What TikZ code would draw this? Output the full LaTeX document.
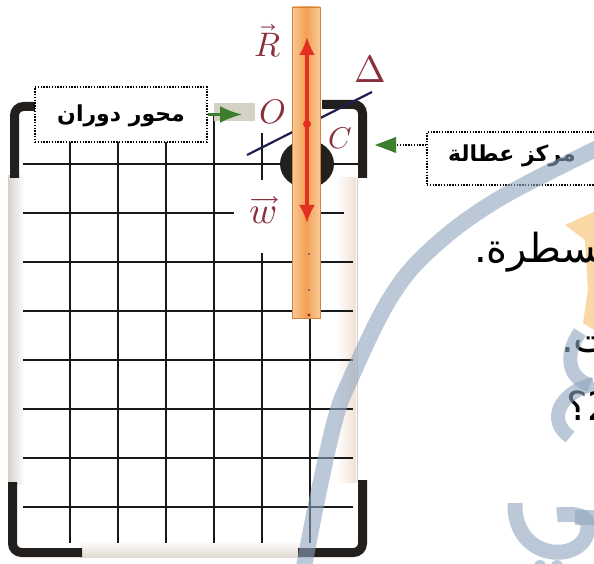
\documentclass[tikz,border=0pt]{standalone}
\usepackage{fontspec}
\usepackage{unicode-math}
\setmathfont{Latin Modern Math}
\newfontfamily\arabicfont[Script=Arabic]{DejaVu Sans}
\TeXXeTstate=1
\usetikzlibrary{arrows.meta}

\definecolor{labelred}{RGB}{138,48,60}
\definecolor{rulerorange}{RGB}{242,160,84}
\definecolor{rulerlight}{RGB}{248,202,152}
\definecolor{rulerline}{RGB}{214,130,60}
\definecolor{forcered}{RGB}{228,48,32}
\definecolor{bracketdark}{RGB}{35,31,29}
\definecolor{tipgreen}{RGB}{60,125,46}
\definecolor{tipgrey}{RGB}{212,210,196}
\definecolor{axisblue}{RGB}{30,30,80}
\definecolor{wmblue}{RGB}{143,164,190}
\definecolor{wmorange}{RGB}{249,216,166}
\definecolor{edgegrey}{RGB}{214,209,205}
\definecolor{edgebeige}{RGB}{240,224,212}
\definecolor{baseband}{RGB}{226,218,210}

\tikzset{
  gridline/.style={line width=2.7pt, black!90},
  bracket/.style={line width=9pt, bracketdark, rounded corners=9pt},
  tagbox/.style={draw, line width=1.3pt, dash pattern=on 1.4pt off 1.4pt, fill=white, inner sep=0pt},
  tagtext/.style={inner sep=0pt, font=\arabicfont\bfseries\fontsize{22}{26}\selectfont},
  vlabel/.style={text=labelred, inner sep=0pt},
  pagetext/.style={inner sep=0pt, font=\arabicfont\fontsize{40}{46}\selectfont},
  watermark/.style={wmblue, opacity=0.6},
  greentip/.style={draw=tipgreen, line width=2.4pt, -{Latex[length=22pt, width=17pt]}, fill=tipgreen},
  forcearrow/.style={forcered, line width=3.2pt, {Latex[length=18pt, width=16pt]}-{Latex[length=18pt, width=16pt]}},
}

\begin{document}
\begin{tikzpicture}[x=1pt, y=-1pt]
\useasboundingbox (0,0) rectangle (594,564);
\clip (0,0) rectangle (594,564);
\fill[white] (0,0) rectangle (594,564);

% ---- page behind the figure ----
\fill[wmorange] (565,225) -- (594,212) -- (594,330) -- (583,323) -- (588,290) -- (585,240) -- cycle;
\node[pagetext, anchor=base west] (lineA) at (474,262) {\beginR مسطرة.\endR};
\node[pagetext, anchor=base west] (lineB) at (561,352) {\beginR ت.\endR};
\node[pagetext, anchor=base west] (lineC) at (566,420) {\beginR 2؟\endR};

% ---- board edges ----
\fill[left color=edgegrey, right color=white] (8,176) rectangle (24,484);
\fill[left color=white, right color=edgebeige] (336,178) rectangle (356,482);
\draw[edgegrey, line width=0.8pt] (357,178) -- (357,482);
\fill[top color=white, bottom color=baseband] (80,541) rectangle (300,557);

% ---- grid ----
\foreach \gx in {70,118,166,214}
  \draw[gridline] (\gx,113) -- (\gx,543);
\draw[gridline] (262,133) -- (262,180);
\draw[gridline] (262,253) -- (262,543);
\draw[gridline] (310,113) -- (310,543);
\draw[gridline] (23,164) -- (362,164);
\draw[gridline] (23,213) -- (234,213);
\draw[gridline] (318,213) -- (344,213);
\foreach \gy in {262,311,360,409,458,507}
  \draw[gridline] (23,\gy) -- (353,\gy);

% ---- corner brackets ----
\draw[bracket] (14.5,178) -- (14.5,106.5) -- (37,106.5);
\draw[bracket] (12.5,482) -- (12.5,552.5) -- (82,552.5);
\draw[bracket] (362.5,480) -- (362.5,552.5) -- (298,552.5);
\draw[bracket] (322,104.5) -- (362.5,104.5) -- (362.5,178);

% ---- pivot knob ----
\fill[bracketdark] (307,164) ellipse [x radius=27, y radius=24];

% ---- rotation axis ----
\coordinate (axisA) at (247,155);
\coordinate (axisB) at (372,92);
\draw[axisblue, line width=2.2pt] (axisA) -- (axisB);

% ---- ruler ----
\shade[left color=rulerlight, right color=rulerlight, middle color=rulerorange] (292,7) rectangle (320,318);
\draw[rulerline, line width=0.8pt] (292,7) rectangle (320,318);
\fill[black!60] (309,254) circle (1.2) (309,290) circle (1.2);
\fill[forcered!70!black] (309,315) circle (1.6);

% ---- forces ----
\coordinate (Rtip) at (307,37);
\coordinate (Wtip) at (307,223);
\draw[forcearrow] (Wtip) -- (Rtip);
\node[circle, fill=forcered, inner sep=0pt, minimum size=8pt] (G) at (307,124) {};

% ---- letters ----
\node[vlabel, font=\fontsize{34}{36}\selectfont] (Rlab) at (268,41) {$\vec{R}$};
\node[vlabel, font=\fontsize{34}{36}\selectfont] (Olab) at (273,112) {$O$};
\node[vlabel, font=\fontsize{30}{32}\selectfont] (Clab) at (340,138) {$C$};
\node[vlabel, font=\fontsize{38}{40}\selectfont] (Wlab) at (263,210) {$\overrightarrow{w}$};
\node[vlabel, font=\fontsize{38}{40}\selectfont] (Dlab) at (370,69) {$\Delta$};

% ---- tags ----
\fill[tipgrey] (214,103) rectangle (255,121);
\node[tagbox, minimum width=172pt, minimum height=55pt] (rotbox) at (121,114.5) {};
\node[tagtext] (rottext) at (121,116) {\beginR محور دوران\endR};
\coordinate (rotTip) at (242,114.5);
\draw[greentip] (rotbox.east) -- (rotTip);

\node[tagbox, minimum width=193pt, minimum height=53pt] (inbox) at (523.5,158.5) {};
\node[tagtext] (intext) at (512,156) {\beginR مركز عطالة\endR};
\coordinate (inTip) at (375,145);
\draw[black, line width=1.3pt, dash pattern=on 1.4pt off 1.4pt] (inbox.west |- inTip) -- (393,145);
\fill[tipgreen] (inTip) -- (396,137) -- (396,153) -- cycle;

% ---- watermark ----
\draw[watermark, line width=16pt] plot[smooth, tension=0.6] coordinates {(303,572) (317,500) (335,420) (350,380) (389,300) (430,250) (497,200) (602,146)};
\draw[watermark, line width=14pt] (580,332) .. controls (564,355) and (568,378) .. (590,385);
\draw[watermark, line width=14pt] (594,384) .. controls (560,392) and (546,420) .. (570,437);
\draw[watermark, line width=15pt] (515,503) .. controls (513,562) and (585,565) .. (588,528) .. controls (589,515) and (575,513) .. (557,515);
\draw[watermark, line width=15pt] (575,517) -- (600,517);
\fill[watermark] (540,566) circle (6) (557,566) circle (6);
\end{tikzpicture}
\end{document}
